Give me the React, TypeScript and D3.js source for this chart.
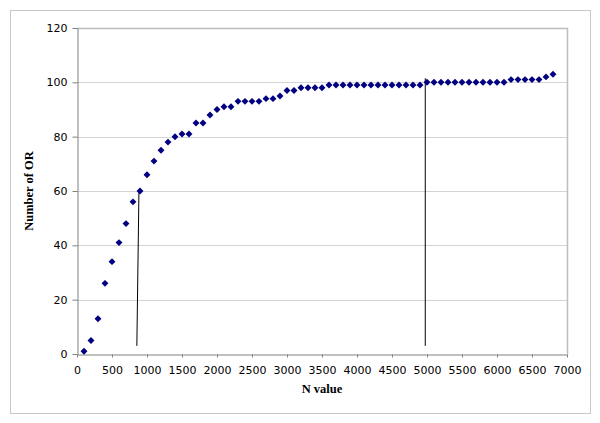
import React, { useRef, useEffect } from "react";
import * as d3 from "d3";

// N values, step 100
const nValues: number[] = d3.range(100, 6900, 100);

// Number of OR at each N value
const orCounts: number[] = [
  1, 5, 13, 26, 34, 41, 48, 56, 60, 66,
  71, 75, 78, 80, 81, 81, 85, 85, 88, 90,
  91, 91, 93, 93, 93, 93, 94, 94, 95, 97,
  97, 98, 98, 98, 98, 99, 99, 99, 99, 99,
  99, 99, 99, 99, 99, 99, 99, 99, 99, 100,
  100, 100, 100, 100, 100, 100, 100, 100, 100, 100,
  100, 101, 101, 101, 101, 101, 102, 103,
];

const xTicks: number[] = d3.range(0, 7500, 500);
const yTicks: number[] = [0, 20, 40, 60, 80, 100, 120];

// the two hand-drawn marker lines: [x1, y1, x2, y2] in data units
const markerLines: number[][] = [
  [885, 60, 855, 3],
  [4975, 101.5, 4975, 3],
];

const App = () => {
  const svgRef = useRef<SVGSVGElement>(null);

  useEffect(() => {
    const width = 600;
    const height = 423;
    const margin = { top: 28, right: 33, bottom: 69, left: 77 };
    const innerW = width - margin.left - margin.right;
    const innerH = height - margin.top - margin.bottom;

    const root = d3.select(svgRef.current);
    root.selectAll("*").remove();
    root.attr("width", width).attr("height", height);

    // outer chart border
    root
      .append("rect")
      .attr("x", 10.5)
      .attr("y", 10.5)
      .attr("width", 580)
      .attr("height", 403)
      .attr("fill", "#fff")
      .attr("stroke", "#c8c8c8");

    const svg = root
      .append("g")
      .attr("transform", `translate(${margin.left},${margin.top})`);

    const x = d3.scaleLinear().domain([0, 7000]).range([0, innerW]);
    const y = d3.scaleLinear().domain([0, 120]).range([innerH, 0]);

    // horizontal gridlines
    svg
      .selectAll(".grid")
      .data(yTicks.filter((d) => d > 0 && d < 120))
      .enter()
      .append("line")
      .attr("x1", 0)
      .attr("x2", innerW)
      .attr("y1", (d) => Math.round(y(d)) + 0.5)
      .attr("y2", (d) => Math.round(y(d)) + 0.5)
      .attr("stroke", "#d4d4d4");

    // plot frame (top + right)
    svg
      .append("path")
      .attr("d", `M0,0.5H${innerW + 0.5}V${innerH}`)
      .attr("fill", "none")
      .attr("stroke", "#bdbdbd")
      .attr("stroke-width", 1.5);

    const tickFont = "'DejaVu Sans', Verdana, sans-serif";

    // x axis
    const xAxis = svg
      .append("g")
      .attr("transform", `translate(0,${innerH + 0.5})`)
      .call(
        d3.axisBottom(x).tickValues(xTicks).tickFormat(d3.format("d"))
          .tickSize(3).tickPadding(9).tickSizeOuter(0)
      );
    xAxis.select(".domain").attr("stroke", "#808080");
    xAxis.selectAll("line").attr("stroke", "#808080");
    xAxis
      .selectAll("text")
      .attr("font-family", tickFont)
      .attr("font-size", 11)
      .attr("fill", "#000");

    // y axis
    const yAxis = svg
      .append("g")
      .attr("transform", "translate(0.5,0)")
      .call(d3.axisLeft(y).tickValues(yTicks).tickSize(5).tickPadding(5).tickSizeOuter(0));
    yAxis.select(".domain").attr("stroke", "#808080");
    yAxis.selectAll("line").attr("stroke", "#808080");
    yAxis
      .selectAll("text")
      .attr("font-family", tickFont)
      .attr("font-size", 11)
      .attr("fill", "#000");

    // marker lines
    svg
      .selectAll(".marker")
      .data(markerLines)
      .enter()
      .append("line")
      .attr("x1", (d) => x(d[0]))
      .attr("y1", (d) => y(d[1]))
      .attr("x2", (d) => x(d[2]))
      .attr("y2", (d) => y(d[3]))
      .attr("stroke", "#000")
      .attr("stroke-width", 1);

    // data points as diamonds (rotated squares)
    const diamond = d3.symbol().type(d3.symbolSquare).size(24);
    svg
      .selectAll(".pt")
      .data(nValues.map((n, i) => ({ n, v: orCounts[i] })))
      .enter()
      .append("path")
      .attr("d", diamond)
      .attr("transform", (d) => `translate(${x(d.n)},${y(d.v)}) rotate(45)`)
      .attr("fill", "#000080");

    // axis titles
    root
      .append("text")
      .attr("x", margin.left + innerW / 2)
      .attr("y", 393)
      .attr("text-anchor", "middle")
      .style("font-family", "'Liberation Serif', 'Times New Roman', serif")
      .style("font-weight", "bold")
      .style("font-size", "12.5px")
      .text("N value");

    root
      .append("text")
      .attr("transform", `translate(33,${margin.top + innerH / 2}) rotate(-90)`)
      .attr("text-anchor", "middle")
      .style("font-family", "'Liberation Serif', 'Times New Roman', serif")
      .style("font-weight", "bold")
      .style("font-size", "12.5px")
      .text("Number of OR");
  }, []);

  return (
    <div style={{ position: "absolute", left: 0, top: 0 }}>
      <svg ref={svgRef}></svg>
    </div>
  );
};

export default App;
